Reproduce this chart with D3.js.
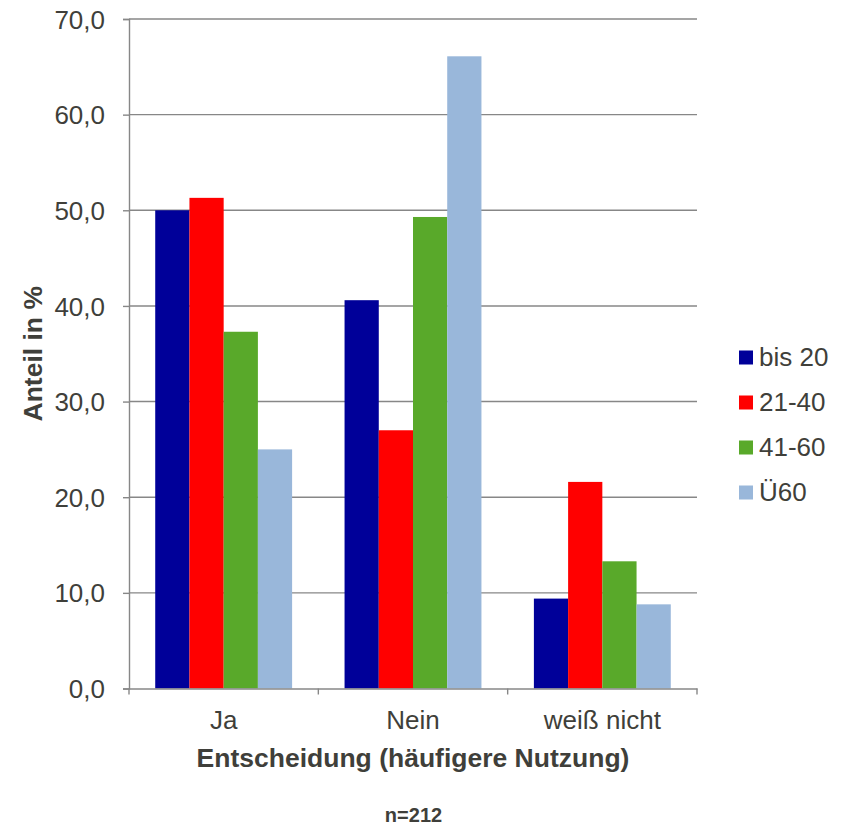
<!DOCTYPE html>
<html><head><meta charset="utf-8">
<script src="https://cdn.jsdelivr.net/npm/d3@7"></script>
<style>body{margin:0;background:#fff;} svg{display:block;}</style>
</head><body>
<svg id="c" width="848" height="826"></svg>
<script>
const categories = ["Ja", "Nein", "weiß nicht"];
const seriesNames = ["bis 20", "21-40", "41-60", "Ü60"];
const bis20 = [50.0, 40.6, 9.4];
const s21_40 = [51.3, 27.0, 21.6];
const s41_60 = [37.3, 49.3, 13.3];
const ue60 = [25.0, 66.1, 8.8];
const yTicks = [0, 10, 20, 30, 40, 50, 60, 70];

(function () {
const colors = ["#000099", "#ff0000", "#59a92a", "#99b7da"];
const values = [bis20, s21_40, s41_60, ue60];

const svg = d3.select("#c");
const pLeft = 129, pRight = 697, pTop = 19, pBottom = 688.5;
const textColor = "#3f3f3a";
const font = "'Liberation Sans', Arial, sans-serif";

const x0 = d3.scaleBand().domain(categories).range([pLeft, pRight]).paddingInner(0.277).paddingOuter(0.1385);
const x1 = d3.scaleBand().domain(seriesNames).range([0, x0.bandwidth()]);
const y = d3.scaleLinear().domain([0, 70]).range([pBottom, pTop]);
const xb = d3.scaleBand().domain(categories).range([pLeft, pRight]);

// gridlines
svg.append("g").selectAll("line").data(yTicks.filter(d => d > 0)).join("line")
  .attr("x1", pLeft).attr("x2", pRight)
  .attr("y1", d => y(d)).attr("y2", d => y(d))
  .attr("stroke", "#878787").attr("stroke-width", 1.4);

// bars
const g = svg.append("g");
seriesNames.forEach((s, i) => {
  g.selectAll(null).data(categories).join("rect")
    .attr("x", c => x0(c) + x1(s))
    .attr("width", x1.bandwidth())
    .attr("y", (c, j) => y(values[i][j]))
    .attr("height", (c, j) => y(0) - y(values[i][j]))
    .attr("fill", colors[i]);
});

// y axis
const yAxis = d3.axisLeft(y).tickValues(yTicks).tickSize(6).tickPadding(18)
  .tickFormat(d => d3.format(".1f")(d).replace(".", ","));
const ya = svg.append("g").attr("transform", `translate(${pLeft},0)`).call(yAxis);
ya.select(".domain").attr("stroke", "#878787").attr("stroke-width", 1.4);
ya.selectAll(".tick line").attr("stroke", "#878787").attr("stroke-width", 1.4);
ya.selectAll("text").attr("font-family", font).attr("font-size", 26).attr("fill", textColor).attr("dy", "0.35em");

// x axis
const xa = svg.append("g").attr("transform", `translate(0,${pBottom})`).call(d3.axisBottom(xb).tickSize(0).tickPadding(22));
xa.select(".domain").attr("stroke", "#878787").attr("stroke-width", 1.4);
xa.selectAll("text").attr("font-family", font).attr("font-size", 26).attr("fill", textColor);
const bounds = [pLeft, ...categories.map(c => xb(c) + xb.bandwidth())];
xa.selectAll(".sep").data(bounds).join("line").attr("class", "sep")
  .attr("x1", d => d).attr("x2", d => d).attr("y1", 0).attr("y2", 6)
  .attr("stroke", "#878787").attr("stroke-width", 1.4);

// axis titles
svg.append("text").attr("x", (pLeft + pRight) / 2).attr("y", 767)
  .attr("text-anchor", "middle").attr("font-family", font).attr("font-weight", "bold")
  .attr("font-size", 26.5).attr("fill", textColor).text("Entscheidung (häufigere Nutzung)");
svg.append("text").attr("transform", `translate(42,${(pTop + pBottom) / 2}) rotate(-90)`)
  .attr("text-anchor", "middle").attr("font-family", font).attr("font-weight", "bold")
  .attr("font-size", 26.5).attr("fill", textColor).text("Anteil in %");
svg.append("text").attr("x", 413.5).attr("y", 821.5)
  .attr("text-anchor", "middle").attr("font-family", font).attr("font-weight", "bold")
  .attr("font-size", 20).attr("fill", textColor).text("n=212");

// legend
const lg = svg.append("g");
seriesNames.forEach((s, i) => {
  const cy = 357.5 + i * 45;
  lg.append("rect").attr("x", 739).attr("y", cy - 7).attr("width", 14).attr("height", 14).attr("fill", colors[i]);
  lg.append("text").attr("x", 759).attr("y", cy).attr("dy", "0.33em")
    .attr("font-family", font).attr("font-size", 26).attr("fill", textColor).text(s);
});
})();
</script>
</body></html>
